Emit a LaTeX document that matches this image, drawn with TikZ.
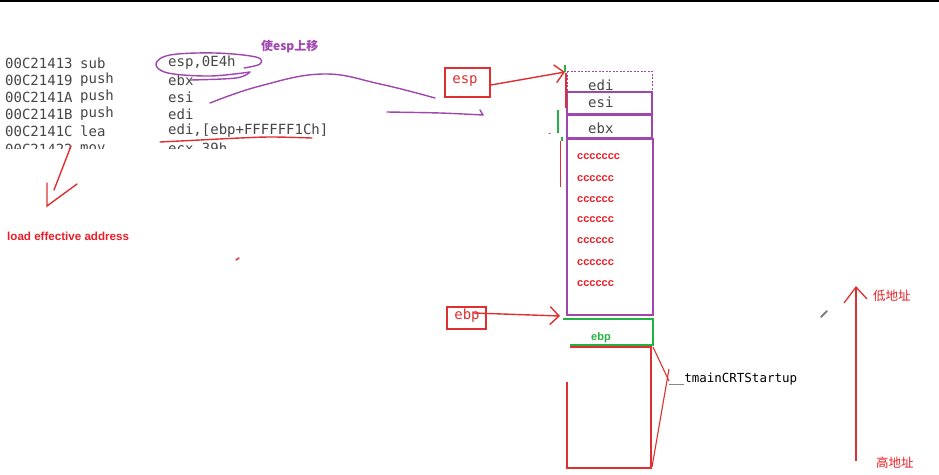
\documentclass[tikz,border=0pt]{standalone}
\usepackage{fontspec}
\setmainfont{Liberation Sans}
\setmonofont{DejaVu Sans Mono}
\newfontfamily\cjk{Noto Sans CJK SC}
\usetikzlibrary{arrows.meta}
\definecolor{pen}{RGB}{222,48,48}
\definecolor{txtred}{RGB}{235,30,40}
\definecolor{ink}{RGB}{160,70,175}
\definecolor{grn}{RGB}{35,178,65}
\definecolor{codegray}{RGB}{70,70,70}
\begin{document}
\begin{tikzpicture}[x=1pt,y=-1pt,
  code/.style={font=\fontsize{14}{14}\selectfont\ttfamily, text=codegray, anchor=west, inner sep=0pt},
  codered/.style={font=\fontsize{14}{14}\selectfont\ttfamily, text=pen, anchor=center, inner sep=0pt},
  ctext/.style={font=\fontsize{11}{11}\selectfont\bfseries, text=txtred, anchor=west, inner sep=0pt},
  slot/.style={draw=ink, line width=1.3pt},
  bigslot/.style={draw=ink, line width=2.2pt},
  regbox/.style={draw=pen, line width=1.3pt},
  redline/.style={draw=pen, line width=1.4pt},
  grnline/.style={draw=grn, line width=2.6pt},
  purpen/.style={draw=ink, line width=1.4pt, line cap=round, line join=round},
  barb/.style={-{Straight Barb[length=9pt,width=18pt,line width=1.4pt]}},
  cjklabel/.style={font=\fontsize{12.5}{12.5}\selectfont\cjk, text=txtred, anchor=west, inner sep=0pt}
]
\useasboundingbox (0,0) rectangle (939,474);
\fill[white] (0,0) rectangle (939,474);
\fill[black] (0,0) rectangle (939,1.5);

% ---------- listing ----------
\begin{scope}
\clip (0,40) rectangle (330,148);
\node[code] (a1) at (5,63) {00C21413};  \node[code] (m1) at (80,63) {sub};  \node[code] (o1) at (168,63) {esp,0E4h};
\node[code] (a2) at (5,80) {00C21419};  \node[code] (m2) at (80,80) {push}; \node[code] (o2) at (168,80) {ebx};
\node[code] (a3) at (5,97) {00C2141A};  \node[code] (m3) at (80,97) {push}; \node[code] (o3) at (168,97) {esi};
\node[code] (a4) at (5,114) {00C2141B}; \node[code] (m4) at (80,114) {push}; \node[code] (o4) at (168,114) {edi};
\node[code] (a5) at (5,131) {00C2141C}; \node[code] (m5) at (80,131) {lea};  \node[code] (o5) at (168,131) {edi,[ebp+FFFFFF1Ch]};
\node[code] (a6) at (5,149) {00C21422}; \node[code] (m6) at (80,149) {mov};  \node[code] (o6) at (168,149) {ecx,39h};
\end{scope}

% ---------- purple annotations ----------
\node[font=\fontsize{12}{12}\selectfont\cjk\bfseries, text=ink, anchor=west, inner sep=0pt] (up) at (261,47) {使esp上移};
\draw[purpen] plot[smooth, tension=0.6] coordinates {(244,68) (260,64) (256,57) (215,53) (170,55) (156,64) (168,73) (210,76) (250,72)};
\draw[purpen] plot[smooth, tension=0.6] coordinates {(250,72) (236,78) (190,80)};
\draw[purpen] plot[smooth, tension=0.7] coordinates {(210,103) (260,86) (323,74) (380,84) (435,98)};
\draw[purpen] plot[smooth, tension=0.5] coordinates {(387,112) (440,113) (483,115)};
\draw[purpen] (483,115) -- (480,110);

% ---------- red annotations on the listing ----------
\draw[redline, line cap=round] plot[smooth, tension=0.6] coordinates {(160,142) (200,140) (240,138) (272,137) (312,138)};
\coordinate (leaStart) at (71,146);
\coordinate (leaTip) at (47,206);
\draw[redline, line cap=round] (leaStart) -- (54,190);
\draw[redline, line cap=round, line join=miter] (47,183) -- (leaTip) -- (77,184);
\node[ctext, font=\fontsize{11.6}{11.6}\selectfont\bfseries] (lea) at (7,236) {load effective address};
\draw[redline, line cap=round] (236,260) -- (239,258);
\draw[pen, line width=1pt, line cap=round] (549,133) -- (550,133);

% ---------- esp pointer ----------
\draw[regbox] (445,68) rectangle (490,97);
\node[codered] (esp) at (465,81) {esp};
\coordinate (espTip) at (565,72);
\draw[redline, barb] ([xshift=13pt,yshift=-4pt]esp.east) -- (espTip);

% ---------- stack ----------
\draw[slot, dashed, dash pattern=on 2pt off 1.5pt, line width=1pt] (567,71) rectangle (652,92);
\draw[slot] (567,92) rectangle (652,114);
\draw[slot] (567,115) rectangle (652,138);
\draw[bigslot] (567,139) rectangle (653,315);
\node[code] (edi) at (588,85) {edi};
\node[code] (esi) at (588,102) {esi};
\node[code] (ebx) at (588,128) {ebx};
\draw[grnline] (565,65) -- (565,72);
\draw[grnline] (558,110) -- (558,133);
\draw[grnline, line width=2pt] (562,137) -- (562,141);
\draw[pen, line width=1.2pt] (566,73) -- (566,108);
\draw[pen, line width=1pt] (560,141) -- (560,187);

\node[ctext] (c1) at (577,157) {ccccccc};
\node[ctext] (c2) at (577,179) {cccccc};
\node[ctext] (c3) at (577,200) {cccccc};
\node[ctext] (c4) at (577,220) {cccccc};
\node[ctext] (c5) at (577,241) {cccccc};
\node[ctext] (c6) at (577,263) {cccccc};
\node[ctext] (c7) at (577,284) {cccccc};

% ---------- ebp pointer ----------
\draw[regbox] (447,307) rectangle (486,329);
\node[codered] (ebpr) at (467,316) {ebp};
\coordinate (ebpTip) at (560,316);
\draw[redline, barb] ([xshift=-6pt,yshift=3pt]ebpr.east) -- (ebpTip);

\draw[grnline] (563,319) -- (653,319) -- (653,345) -- (570,345);
\node[font=\fontsize{11}{11}\selectfont\bfseries, text=grn, anchor=west, inner sep=0pt] (ebpg) at (591,338) {ebp};

% ---------- caller frame ----------
\draw[redline] (570,347) -- (651,347) -- (651,468) -- (567,468) -- (567,382);
\node[font=\fontsize{12.5}{12.5}\selectfont\ttfamily, text=black, anchor=west, inner sep=0pt] (crt) at (669,379) {\_\_tmainCRTStartup};
\draw[redline, line width=1.1pt] (653,347) -- ([yshift=-2pt]crt.west);
\draw[redline, line width=1.1pt] ([yshift=10pt]crt.west) -- (652,467);

% ---------- address direction ----------
\coordinate (lowEnd) at (856,287);
\coordinate (highEnd) at (856,461);
\draw[redline, line width=1.3pt] (highEnd) -- (lowEnd);
\draw[redline, line width=1.3pt, line join=miter] (844,303) -- (lowEnd) -- (867,299);
\node[cjklabel] (low) at (873,296) {低地址};
\node[cjklabel] (high) at (876,463) {高地址};
\draw[gray, line width=1.8pt, line cap=round] (821,317) -- (827,311);
\end{tikzpicture}
\end{document}
